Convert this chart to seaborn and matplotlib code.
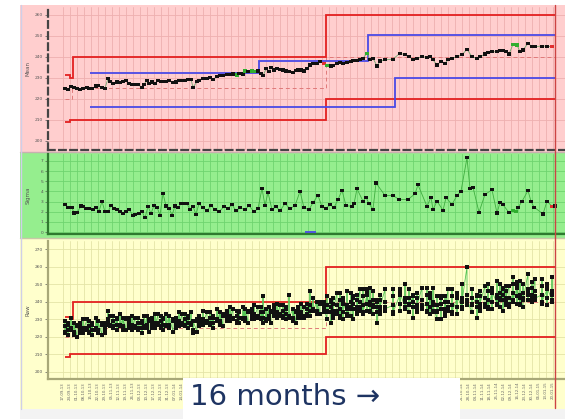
import numpy as np
import pandas as pd
import matplotlib
matplotlib.use("Agg")
import matplotlib.pyplot as plt
import seaborn as sns
from matplotlib.patches import Rectangle
from matplotlib.lines import Line2D

sns.set_theme(style="white")
plt.rcParams["font.family"] = ["DejaVu Sans"]

# ---------------- data ----------------
# subgroup day numbers (days since start date) and subgroup means
mean_day = [17, 20, 23, 26, 29, 32, 35, 39, 41, 44,
            48, 50, 54, 57, 60, 62, 65, 69, 72, 75,
            78, 81, 84, 87, 90, 94, 96, 99, 101, 104,
            107, 110, 113, 115, 118, 121, 125, 128, 131, 134,
            137, 140, 143, 145, 149, 151, 155, 159, 162, 165,
            169, 172, 175, 179, 182, 185, 189, 191, 195, 197,
            200, 204, 206, 210, 213, 215, 218, 221, 223, 226,
            229, 232, 235, 238, 241, 245, 248, 250, 253, 256,
            259, 262, 265, 269, 272, 276,
            279, 283, 285, 289, 292, 295, 299, 303, 305, 309,
            312, 315, 319, 322, 325, 329, 332, 337, 345, 352,
            357, 361, 365, 369, 374, 379, 382, 385, 389, 393,
            397, 400, 404, 409, 414, 419, 424, 429, 432, 437,
            440, 444, 449, 452, 455, 458, 461, 465, 469, 472,
            475, 480, 484, 487, 494, 499, 504]
mean_value = [225.1, 224.6, 225.9, 225.4, 225.1, 224.6, 224.9, 225.6, 224.9, 224.8,
              226.2, 226.3, 225.6, 225.2, 229.7, 228.2, 227.5, 228.1, 228.0, 228.4,
              228.7, 227.5, 227.1, 227.1, 226.7, 225.6, 227.1, 228.6, 227.5, 228.1,
              227.5, 228.9, 228.4, 228.4, 228.2, 228.6, 227.8, 228.1, 228.9, 228.7,
              228.6, 229.4, 229.4, 225.6, 228.2, 229.0, 229.7, 229.9, 230.3, 229.4,
              230.6, 231.3, 231.0, 231.6, 231.8, 231.9, 231.4, 232.2, 231.9, 233.3,
              233.0, 233.3, 233.0, 233.3, 232.2, 231.0, 234.3, 233.0, 235.1, 233.8,
              234.3, 234.1, 233.8, 233.3, 233.0, 232.5, 233.5, 233.8, 233.8, 233.3,
              234.6, 236.2, 236.7, 237.0, 237.8, 237.0,
              235.9, 235.7, 235.9, 237.0, 237.3, 236.7, 237.3, 237.8, 238.2, 238.2,
              238.9, 239.4, 241.8, 238.6, 239.4, 235.7, 238.1, 238.6, 239.0, 241.8,
              241.0, 240.1, 239.0, 239.4, 240.1, 239.9, 240.1, 238.6, 236.2, 237.8,
              237.0, 238.6, 239.4, 240.1, 241.0, 243.7, 240.1, 239.4, 240.1, 241.4,
              242.0, 242.5, 242.5, 243.0, 243.0, 242.5, 241.4, 246.0, 245.7, 242.5,
              243.3, 246.5, 244.9, 244.9, 245.2, 245.2, 244.8]
mean_green_days = [189, 197, 204, 206, 279, 319, 465, 469]
mean_red_days = [276, 504]

# subgroup standard deviations
sigma_day = [17, 20, 24, 26, 29, 33, 35, 38, 41, 45,
             48, 51, 54, 57, 60, 63, 66, 69, 72, 75,
             78, 81, 85, 87, 91, 94, 97, 100, 103, 106,
             109, 112, 115, 118, 121, 124, 127, 130, 133, 136,
             139, 142, 145, 148, 151, 155, 159, 163, 167, 171,
             176, 180, 184, 188, 192, 197, 201, 206, 210, 214,
             217, 220, 224, 228, 232, 237, 242, 247, 252, 256,
             261, 265, 270, 274, 278, 282, 286, 290, 294, 298,
             304, 306, 309, 315, 318, 321, 325, 328, 337, 345,
             351, 360, 367, 370, 379, 383, 385, 389, 395, 398,
             404, 409, 413, 419, 422, 425, 431, 437, 444, 449,
             452, 455, 461, 465, 468, 470, 474, 480, 483, 486,
             495, 499, 504, 507]
sigma_value = [2.72, 2.46, 2.40, 1.88, 1.92, 2.56, 2.53, 2.31, 2.31, 2.24,
               2.40, 2.04, 3.02, 1.98, 1.98, 2.63, 2.31, 2.21, 2.04, 1.82,
               2.04, 2.21, 1.66, 1.72, 1.82, 2.04, 1.39, 2.53, 1.82, 2.63,
               2.46, 1.66, 3.82, 2.56, 2.36, 1.66, 2.56, 2.40, 2.79, 2.79,
               2.79, 2.21, 2.53, 1.75, 2.79, 2.40, 2.10, 2.60, 2.20, 2.00,
               2.50, 2.30, 2.70, 2.10, 2.40, 2.20, 2.60, 2.00, 2.30, 4.30,
               2.60, 3.90, 2.20, 2.50, 2.10, 2.80, 2.30, 2.60, 4.00, 2.40,
               2.20, 2.90, 3.60, 2.50, 2.30, 2.70, 2.40, 3.20, 4.10, 2.60,
               2.53, 2.79, 4.25, 3.04, 3.43, 2.79, 2.24, 4.83, 3.60, 3.60,
               3.21, 3.21, 3.76, 4.64, 2.53, 3.43, 2.21, 3.04, 2.14, 3.37,
               2.72, 3.60, 4.02, 7.30, 4.28, 4.41, 1.95, 3.70, 4.15, 1.88,
               2.89, 2.69, 1.92, 2.14, 2.04, 2.40, 3.02, 4.08, 3.02, 2.46,
               1.78, 3.04, 2.53, 2.56]
sigma_green_days = [465, 468]
sigma_red_days = [504]

# individual readings, one list per subgroup (same order as mean_day)
raw_groups = [
    [222, 226, 229, 223], [227, 221, 228, 224], [225, 231, 224, 224], [228, 223, 221, 228],
    [220, 227, 226, 227], [226, 228, 222, 224], [225, 222, 230, 223], [230, 225, 224, 225],
    [222, 226, 229, 223], [227, 221, 228, 224], [225, 231, 224, 224], [229, 224, 222, 229],
    [221, 228, 227, 228], [226, 228, 222, 224], [230, 227, 235, 228], [232, 227, 226, 227],
    [225, 229, 232, 226], [230, 224, 231, 227], [227, 233, 226, 226], [231, 226, 224, 231],
    [224, 231, 230, 231], [229, 231, 225, 227], [227, 224, 232, 225], [231, 226, 225, 226],
    [224, 228, 231, 225], [228, 222, 229, 225], [226, 232, 225, 225], [232, 227, 225, 232],
    [223, 230, 229, 230], [229, 231, 225, 227], [228, 225, 233, 226], [233, 228, 227, 228],
    [225, 229, 232, 226], [230, 224, 231, 227], [227, 233, 226, 226], [232, 227, 225, 232],
    [223, 230, 229, 230], [229, 231, 225, 227], [229, 226, 234, 227], [233, 228, 227, 228],
    [226, 230, 233, 227], [231, 225, 232, 228], [228, 234, 227, 227], [229, 224, 222, 229],
    [223, 230, 229, 230], [230, 232, 226, 228], [230, 227, 235, 228], [234, 229, 228, 229],
    [227, 231, 234, 228], [231, 225, 232, 228], [230, 236, 229, 229], [234, 229, 227, 234],
    [226, 233, 232, 233], [233, 235, 229, 231], [232, 229, 237, 230], [236, 231, 230, 231],
    [228, 232, 235, 229], [234, 228, 235, 231], [231, 237, 230, 230], [236, 231, 229, 236],
    [228, 235, 234, 235], [234, 236, 230, 232], [233, 230, 238, 231], [237, 232, 231, 232],
    [230, 234, 237, 231], [234, 228, 243, 231], [230, 236, 229, 229], [237, 232, 230, 237],
    [228, 235, 234, 235], [236, 238, 232, 234], [234, 231, 239, 232], [238, 233, 232, 233],
    [231, 235, 238, 232], [236, 230, 237, 233], [232, 244, 231, 231], [236, 231, 229, 236],
    [228, 235, 234, 235], [235, 237, 231, 233], [234, 231, 239, 232], [237, 232, 231, 232],
    [232, 236, 239, 233], [238, 232, 246, 235], [236, 242, 235, 235], [240, 235, 233, 240],
    [233, 240, 239, 240], [238, 240, 234, 236],
    [230, 238, 243, 235, 234], [240, 228, 237, 241, 234], [233, 242, 231, 239, 235],
    [245, 235, 233, 238, 234], [236, 231, 241, 245, 232], [239, 242, 230, 234, 240],
    [233, 238, 246, 232, 236], [232, 240, 245, 237, 236], [242, 230, 239, 243, 236],
    [235, 244, 233, 241, 237], [247, 237, 235, 240, 236], [238, 233, 243, 247, 234],
    [244, 247, 235, 239, 245], [235, 240, 248, 234, 238], [233, 241, 246, 238, 237],
    [240, 228, 237, 241, 234], [235, 244, 233, 241, 237], [247, 237, 235, 240, 236],
    [238, 233, 243, 247, 234], [244, 247, 235, 239, 245], [237, 242, 250, 236, 240],
    [234, 242, 247, 239, 238], [243, 231, 240, 244, 237], [236, 245, 234, 242, 238],
    [248, 238, 236, 241, 237], [239, 234, 244, 248, 235], [242, 245, 233, 237, 243],
    [235, 240, 248, 234, 238], [230, 238, 243, 235, 234], [242, 230, 239, 243, 236],
    [234, 243, 232, 240, 236], [247, 237, 235, 240, 236], [238, 233, 243, 247, 234],
    [242, 245, 233, 237, 243], [237, 242, 250, 236, 240], [260, 240, 244, 238, 241],
    [234, 242, 247, 239, 238], [243, 231, 240, 244, 237], [237, 246, 235, 243, 239],
    [249, 239, 237, 242, 238], [241, 236, 246, 250, 237], [245, 248, 236, 240, 246],
    [239, 244, 252, 238, 242], [237, 245, 250, 242, 241], [247, 235, 244, 248, 241],
    [240, 249, 238, 246, 242], [249, 239, 237, 242, 238], [245, 240, 250, 254, 241],
    [248, 251, 239, 243, 249], [239, 244, 252, 238, 242], [237, 245, 250, 242, 241],
    [256, 244, 247, 241, 245], [242, 251, 240, 248, 244], [253, 243, 241, 246, 242],
    [244, 239, 249, 253, 240], [247, 250, 238, 242, 248], [241, 246, 254, 240, 244],
]

# control limits (shared by the mean and raw panels), as step edges/levels
limit_edges = [17, 22, 24.7, 278, 507]
ucl_levels = [231.4, 230.0, 240.0, 260.0]
lcl_levels = [208.8, 210.0, 210.0, 220.0]
cl_edges = [17, 24, 278, 507]
cl_levels = [220.0, 225.0, 240.0]
# specification bands on the mean chart
spec_hi_edges = [42, 211, 320, 507]
spec_hi_levels = [232.4, 238.2, 250.6]
spec_lo_edges = [42, 347, 507]
spec_lo_levels = [216.0, 230.1]
sigma_spec_edges = [257, 268]
sigma_spec_levels = [0.0]

mean_ticks = [200, 210, 220, 230, 240, 250, 260]
sigma_ticks = [0, 1, 2, 3, 4, 5, 6, 7]
raw_ticks = [200, 210, 220, 230, 240, 250, 260, 270]
start_date = pd.Timestamp("2013-09-02")
today_day = 507

# ---------------- layout helpers ----------------
W, H = 565, 419
PLOT_LEFT = 48
fig = plt.figure(figsize=(W / 100, H / 100), dpi=100)
fig.patch.set_facecolor("white")


def fig_rect(x0, y0, x1, y1, **kw):
    r = Rectangle((x0 / W, 1 - y1 / H), (x1 - x0) / W, (y1 - y0) / H,
                  transform=fig.transFigure, **kw)
    fig.patches.append(r)
    return r


def fig_line(x0, y0, x1, y1, **kw):
    fig.add_artist(Line2D([x0 / W, x1 / W], [1 - y0 / H, 1 - y1 / H],
                          transform=fig.transFigure, **kw))


def add_panel_axes(top, bottom, left=PLOT_LEFT, right=565):
    return fig.add_axes([left / W, 1 - bottom / H, (right - left) / W, (bottom - top) / H])


PINK, GREEN, YELLOW = "#ffcece", "#95ee8e", "#ffffcc"
fig_rect(20, 5, 565, 152, facecolor=PINK, edgecolor="none", zorder=-10)
fig_rect(20, 152, 565, 238, facecolor=GREEN, edgecolor="none", zorder=-10)
fig_rect(20, 238, 565, 409, facecolor=YELLOW, edgecolor="none", zorder=-10)
fig_rect(20, 409, 565, 419, facecolor="#f3f3f3", edgecolor="none", zorder=-10)
fig_line(20, 152.5, 565, 152.5, color="#c9b0b0", lw=1.0, zorder=-5)
fig_line(20, 238.5, 565, 238.5, color="#c8c8a8", lw=1.0, zorder=-5)
fig_line(20.5, 5, 20.5, 409, color="#cfcfe8", lw=1.0, zorder=-5)

ax_mean = add_panel_axes(7, 150)
ax_sigma = add_panel_axes(154, 234)
ax_raw = add_panel_axes(241, 379)

week_ticks = list(range(15, 508, 7))


def style_axes(ax, face, grid_color, spine_color, spine_ls, ylim, yticks):
    ax.set_facecolor(face)
    ax.set_xlim(0, 517)
    ax.set_ylim(*ylim)
    ax.set_xticks(week_ticks)
    ax.set_yticks(yticks)
    ax.set_yticklabels([f"{t:,}" for t in yticks])
    ax.grid(True, color=grid_color, lw=0.6)
    ax.set_axisbelow(True)
    for s in ("top", "right"):
        ax.spines[s].set_visible(False)
    for s in ("left", "bottom"):
        ax.spines[s].set_color(spine_color)
        ax.spines[s].set_linewidth(1.6)
        ax.spines[s].set_linestyle(spine_ls)
    ax.tick_params(axis="y", labelsize=3.2, labelcolor="#555555", length=2,
                   width=0.5, color="#555555", pad=1.5, left=True)
    ax.tick_params(axis="x", length=0, labelbottom=False)


style_axes(ax_mean, PINK, "#eeb0b0", "#444444", (0, (3, 2)), (195.7, 263.8), mean_ticks)
style_axes(ax_sigma, GREEN, "#6fd46f", "#2f7a2f", "solid", (-0.19, 7.68), sigma_ticks)
style_axes(ax_raw, YELLOW, "#e4e4a8", "#a8a878", "solid", (196.0, 274.6), raw_ticks)

RED, BLUE, CLC = "#e32020", "#4a4ae6", "#e07a7a"
LINE_GREEN = "#55c455"

# ---------------- mean panel ----------------
mean_df = pd.DataFrame({"day": mean_day, "value": mean_value})
mean_df["state"] = np.where(mean_df["day"].isin(mean_red_days), "red",
                            np.where(mean_df["day"].isin(mean_green_days), "green", "in"))
point_palette = {"in": "#111111", "green": "#2fae2f", "red": "#e03030"}

for ax in (ax_mean, ax_raw):
    ax.stairs(ucl_levels, limit_edges, baseline=None, color=RED, lw=1.3, zorder=3)
    ax.stairs(lcl_levels, limit_edges, baseline=None, color=RED, lw=1.3, zorder=3)
    ax.stairs(cl_levels, cl_edges, baseline=None, color=CLC, lw=0.7, ls=(0, (4, 3)), zorder=2)

ax_mean.stairs(spec_hi_levels, spec_hi_edges, baseline=None, color=BLUE, lw=1.3, zorder=3)
ax_mean.stairs(spec_lo_levels, spec_lo_edges, baseline=None, color=BLUE, lw=1.3, zorder=3)

sns.lineplot(data=mean_df, x="day", y="value", ax=ax_mean, color="#6fa86f",
             lw=0.6, sort=False, estimator=None, zorder=4)
sns.scatterplot(data=mean_df, x="day", y="value", hue="state", palette=point_palette,
                marker="s", s=5, linewidth=0, ax=ax_mean, legend=False, zorder=5)

# ---------------- sigma panel ----------------
sigma_df = pd.DataFrame({"day": sigma_day, "value": sigma_value})
sigma_df["state"] = np.where(sigma_df["day"].isin(sigma_red_days), "red",
                             np.where(sigma_df["day"].isin(sigma_green_days), "green", "in"))
ax_sigma.stairs(sigma_spec_levels, sigma_spec_edges, baseline=None, color=BLUE, lw=1.3, zorder=3)
sns.lineplot(data=sigma_df, x="day", y="value", ax=ax_sigma, color="#3fae3f",
             lw=0.6, sort=False, estimator=None, zorder=4)
sns.scatterplot(data=sigma_df, x="day", y="value", hue="state", palette=point_palette,
                marker="s", s=5, linewidth=0, ax=ax_sigma, legend=False, zorder=5)

# ---------------- raw panel ----------------
raw_df = pd.DataFrame([(d, v) for d, grp in zip(mean_day, raw_groups) for v in grp],
                      columns=["day", "value"])
sns.lineplot(data=raw_df, x="day", y="value", ax=ax_raw, color=LINE_GREEN,
             lw=0.6, sort=False, estimator=None, zorder=4)
sns.scatterplot(data=raw_df, x="day", y="value", color="#111111",
                marker="s", s=10, linewidth=0, ax=ax_raw, legend=False, zorder=5)

# weekly date labels under the raw panel (the call-out box is drawn over part of them)
ax_raw.set_xticklabels([(start_date + pd.Timedelta(days=d)).strftime("%d-%m-%y")
                        for d in week_ticks])
ax_raw.tick_params(axis="x", labelbottom=True, labelsize=2.8, labelcolor="#666666",
                   labelrotation=90, pad=2)

for ax in (ax_mean, ax_sigma, ax_raw):
    ax.set_xlabel("")
    ax.set_ylabel("")

# panel titles
for label, ypx in (("Mean", 68), ("Sigma", 195), ("Raw", 310)):
    fig.text(28 / W, 1 - ypx / H, label, rotation=90, fontsize=4, color="#555555",
             ha="center", va="center")

# current-date marker through all panels
fig_line(PLOT_LEFT + today_day, 5, PLOT_LEFT + today_day, 408, color="#cc4444", lw=1.0, zorder=6)

# duration call-out
fig_rect(183, 378, 460, 419, facecolor="white", edgecolor="none", zorder=10)
fig.text(190 / W, 1 - 397 / H, "16 months \u2192", fontsize=21, color="#1e3462",
         ha="left", va="center", zorder=11)

fig.savefig("out.png", dpi=100)
